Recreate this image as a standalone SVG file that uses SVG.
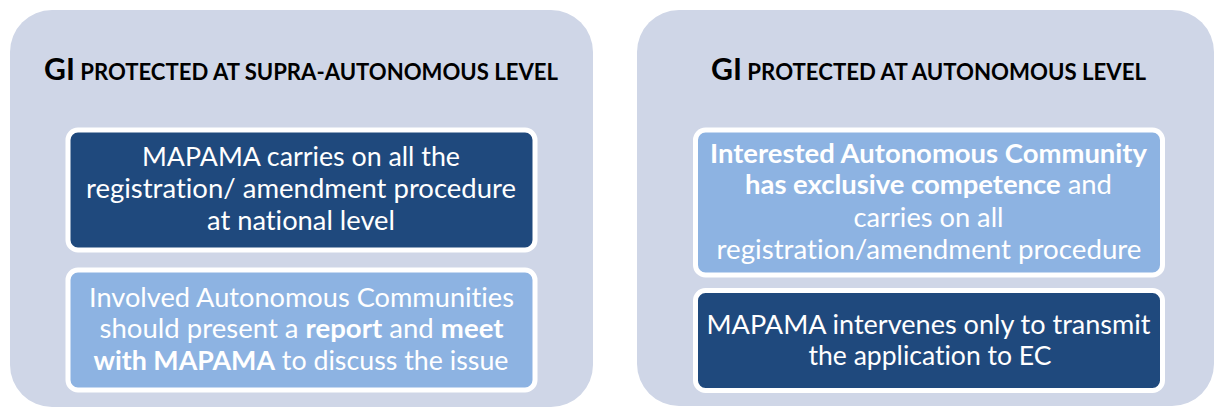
<svg xmlns="http://www.w3.org/2000/svg" width="1215" height="408" viewBox="0 0 1215 408">
  <style>
    .panel { fill: #CFD6E7; }
    .box { stroke: #FFFFFF; stroke-width: 5; }
    .dark { fill: #1F497D; }
    .light { fill: #8DB3E2; }
    text { font-variant-ligatures: none; }
    .title { font-family: Lato, "Open Sans", "Liberation Sans", sans-serif; font-weight: bold; fill: #000000; }
    .title .big { font-size: 30px; }
    .title .small { font-size: 22px; }
    .body { font-family: Lato, "Open Sans", "Liberation Sans", sans-serif; font-size: 26.5px; fill: #FFFFFF; text-anchor: middle; }
    .b { font-weight: bold; }
  </style>

  <rect width="1215" height="408" fill="#FFFFFF"/>

  <!-- left column: supra-autonomous level -->
  <g id="panel-supra">
    <rect class="panel" x="10" y="10" width="583" height="397" rx="42" ry="42"/>
    <text class="title" x="301" y="80" text-anchor="middle" textLength="514" lengthAdjust="spacingAndGlyphs"><tspan class="big">GI</tspan><tspan class="small"> PROTECTED AT SUPRA-AUTONOMOUS LEVEL</tspan></text>
  </g>

  <g id="node-mapama-national">
    <rect class="box dark" x="68" y="130" width="467" height="120" rx="10" ry="10"/>
    <text class="body" x="301" y="166" textLength="318" lengthAdjust="spacingAndGlyphs">MAPAMA carries on all the</text>
    <text class="body" x="301" y="198" textLength="430" lengthAdjust="spacingAndGlyphs">registration/ amendment procedure</text>
    <text class="body" x="301" y="230" textLength="188" lengthAdjust="spacingAndGlyphs">at national level</text>
  </g>

  <g id="node-involved-communities">
    <rect class="box light" x="68" y="270" width="467" height="120" rx="10" ry="10"/>
    <text class="body" x="301.5" y="306.5" textLength="425" lengthAdjust="spacingAndGlyphs">Involved Autonomous Communities</text>
    <text class="body" x="301.5" y="338" textLength="404" lengthAdjust="spacingAndGlyphs">should present a <tspan class="b">report</tspan> and <tspan class="b">meet</tspan></text>
    <text class="body" x="301" y="370" textLength="415" lengthAdjust="spacingAndGlyphs"><tspan class="b">with MAPAMA</tspan> to discuss the issue</text>
  </g>

  <!-- right column: autonomous level -->
  <g id="panel-autonomous">
    <rect class="panel" x="637" y="10" width="577" height="396" rx="42" ry="42"/>
    <text class="title" x="928.5" y="80" text-anchor="middle" textLength="435" lengthAdjust="spacingAndGlyphs"><tspan class="big">GI</tspan><tspan class="small"> PROTECTED AT AUTONOMOUS LEVEL</tspan></text>
  </g>

  <g id="node-community-competence">
    <rect class="box light" x="695.5" y="130" width="467" height="145" rx="10" ry="10"/>
    <text class="body b" x="928.5" y="162.5" textLength="437" lengthAdjust="spacingAndGlyphs">Interested Autonomous Community</text>
    <text class="body" x="928.5" y="194" textLength="367" lengthAdjust="spacingAndGlyphs"><tspan class="b">has exclusive competence</tspan> and</text>
    <text class="body" x="928.5" y="226.5" textLength="150" lengthAdjust="spacingAndGlyphs">carries on all</text>
    <text class="body" x="929" y="258.5" textLength="425" lengthAdjust="spacingAndGlyphs">registration/amendment procedure</text>
  </g>

  <g id="node-mapama-transmit">
    <rect class="box dark" x="695.5" y="290.5" width="467" height="100" rx="10" ry="10"/>
    <text class="body" x="928.5" y="333.5" textLength="444" lengthAdjust="spacingAndGlyphs">MAPAMA intervenes only to transmit</text>
    <text class="body" x="930" y="365" textLength="243" lengthAdjust="spacingAndGlyphs">the application to EC</text>
  </g>
</svg>
